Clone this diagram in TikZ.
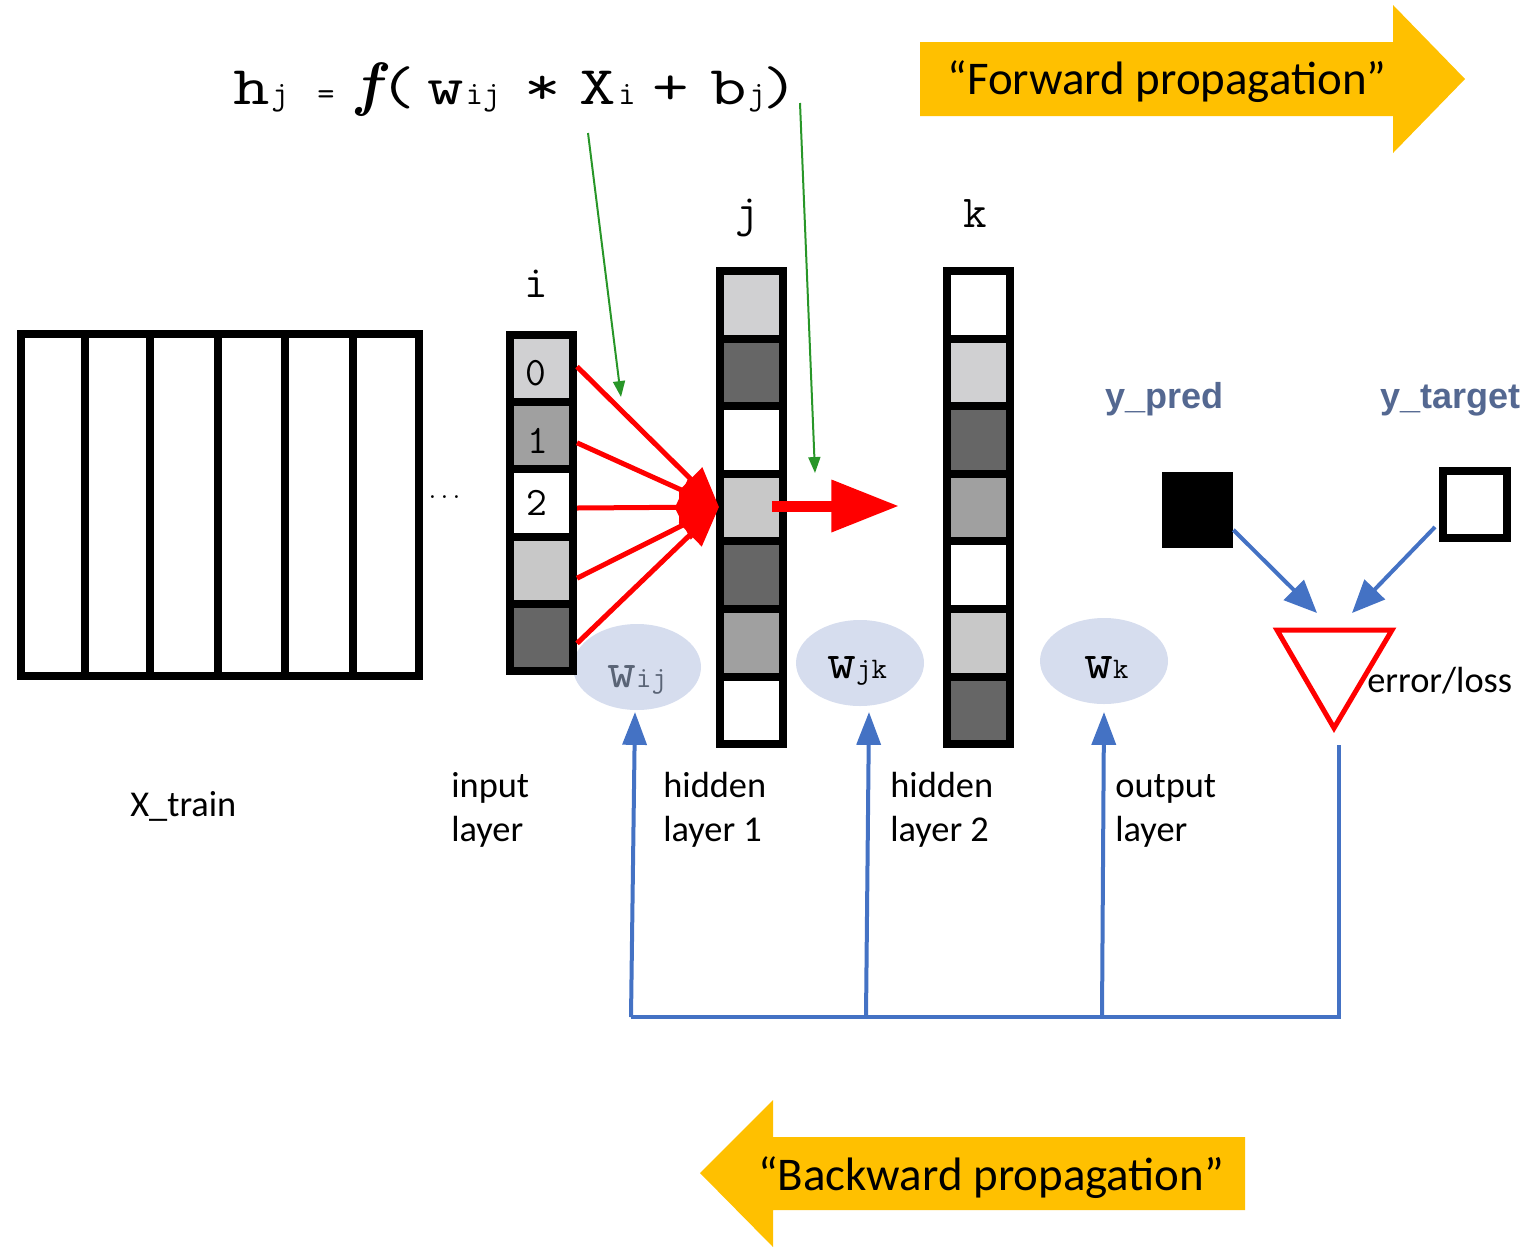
\documentclass[tikz,border=0pt]{standalone}
\usepackage{fontspec}
\newfontfamily\calib{Carlito}
\newfontfamily\helv{Liberation Sans}
\usetikzlibrary{arrows.meta,calc,shapes.geometric}
\newlength{\pxu}\setlength{\pxu}{0.02cm}
\definecolor{fwd}{RGB}{255,192,0}
\definecolor{bblue}{RGB}{68,114,196}
\definecolor{ell}{RGB}{214,221,238}
\definecolor{gline}{RGB}{40,150,40}
\definecolor{lg}{RGB}{208,208,210}
\definecolor{mg}{RGB}{160,160,160}
\definecolor{dg}{RGB}{102,102,102}
\definecolor{cg}{RGB}{200,200,200}
\definecolor{slate}{RGB}{84,104,145}
\definecolor{wgrey}{RGB}{90,100,118}
\newcommand{\wide}[1]{\scalebox{1.3}[1]{#1}}
\newcommand{\wbig}[1]{{\ttfamily\fontsize{29}{30}\selectfont\scalebox{1.1}[1]{#1}}}
\newcommand{\wsub}[1]{{\ttfamily\fontsize{17}{18}\selectfont #1}}
\begin{document}
\begin{tikzpicture}[x=0.02cm,y=-0.02cm,
  cell/.style={draw=black,line width=8\pxu,minimum width=63\pxu,minimum height=67.6\pxu,inner sep=0pt},
  big/.style={font=\ttfamily\fontsize{31}{34}\selectfont,inner sep=0pt,anchor=base},
  small/.style={font=\ttfamily\fontsize{19}{21}\selectfont,inner sep=0pt,anchor=base},
  lab/.style={font=\calib\fontsize{20.7}{25}\selectfont,inner sep=0pt,anchor=base west},
  ylab/.style={font=\helv\bfseries\fontsize{20.5}{24}\selectfont,text=slate,inner sep=0pt,anchor=base west},
  wlab/.style={inner sep=0pt,anchor=base west},
  wball/.style={ellipse,fill=ell,minimum width=128\pxu,minimum height=86\pxu,inner sep=0pt},
  idx/.style={font=\ttfamily\fontsize{26}{28}\selectfont,inner sep=0pt,anchor=base},
  digit/.style={font=\ttfamily\fontsize{23}{25}\selectfont,inner sep=0pt},
  proptext/.style={font=\calib\fontsize{26.7}{30}\selectfont,inner sep=0pt,anchor=base},
  garrow/.style={draw=gline,line width=2\pxu,-{Triangle[length=9.07pt,width=6.8pt]}},
  redarr/.style={draw=red,line width=5\pxu,-{Triangle[length=22.7pt,width=18.1pt]}},
  barrow/.style={draw=bblue,line width=4\pxu,-{Triangle[length=18.7pt,width=13.6pt]}},
  barrowd/.style={draw=bblue,line width=4\pxu,-{Triangle[length=18.7pt,width=15.9pt]}},
  bline/.style={draw=bblue,line width=4\pxu}
]
\useasboundingbox (0,0) rectangle (1534,1251);

% propagation arrows
\fill[fwd] (920,42) -- (1393,42) -- (1393,5) -- (1465,79) -- (1393,153) -- (1393,116) -- (920,116) -- cycle;
\node[proptext] (fwdtxt) at (1167,94) {“Forward propagation”};
\fill[fwd] (1245,1137) -- (773,1137) -- (773,1100) -- (700,1173) -- (773,1247) -- (773,1210) -- (1245,1210) -- cycle;
\node[proptext] (bwdtxt) at (991,1190) {“Backward propagation”};

% formula
\node[big] (fh) at (252,104) {\wide{h}};
\node[small] (fj1) at (280,104) {j};
\node[small] (feq) at (326,104) {=};
\node[font=\rmfamily\bfseries\itshape\fontsize{34}{36}\selectfont,inner sep=0pt,anchor=base] (ff) at (368,104) {f};
\node[big] (flp) at (398,104) {\wide{(}};
\node[big] (fw) at (446,104) {\wide{w}};
\node[small] (fij) at (483,104) {ij};
\node[big] (fstar) at (543,104) {\wide{*}};
\node[big] (fX) at (598,104) {\wide{X}};
\node[small] (fi) at (627,104) {i};
\node[big] (fplus) at (671,104) {\wide{+}};
\node[big] (fb) at (729,104) {\wide{b}};
\node[small] (fj2) at (757,104) {j};
\node[big] (frp) at (781,104) {\wide{)}};

% X_train block
\draw[line width=8\pxu] (21,334) rectangle (419,676);
\foreach \x in {85,150,218,285,353} \draw[line width=8\pxu] (\x,334) -- (\x,676);
\node[font=\rmfamily\fontsize{20}{22}\selectfont,inner sep=0pt,anchor=base] (dots) at (445,498) {.\kern1.9pt.\kern1.9pt.};

% weight ellipses
\node[wball] (wij) at (637,667) {};
\node[wball] (wjk) at (860,663) {};
\node[wball] (wk) at (1104,661) {};
\node[wlab,text=wgrey] (wijt) at (607,687) {\wbig{w}\wsub{ij}};
\node[wlab] (wjkt) at (827,678) {\wbig{w}\wsub{jk}};
\node[wlab] (wkt) at (1084,678) {\wbig{w}\wsub{k}};

% layer columns
\foreach \c [count=\n from 0] in {lg,mg,white,cg,dg}
  \node[cell,minimum height=67.2\pxu,fill=\c] (in\n) at (541.5,{368.6+67.2*\n}) {};
\foreach \c [count=\n from 0] in {lg,dg,white,cg,dg,mg,white}
  \node[cell,fill=\c] (ha\n) at (751.5,{304.8+67.6*\n}) {};
\foreach \c [count=\n from 0] in {white,lg,dg,mg,white,cg,dg}
  \node[cell,fill=\c] (hb\n) at (978.5,{304.8+67.6*\n}) {};
\node[digit] (d0) at (536,373) {0};
\node[digit] (d1) at (538,441) {1};
\node[digit] (d2) at (537,503) {2};

\node[idx] (li) at (536,297) {i};
\node[idx] (lj) at (747,226) {j};
\node[idx] (lk) at (975,227) {k};

% green arrows
\coordinate (g1s) at (588,133);
\coordinate (g1e) at (621,397);
\coordinate (g2s) at (800,103);
\coordinate (g2e) at (815,473);
\draw[garrow] (g1s) -- (g1e);
\draw[garrow] (g2s) -- (g2e);

% red arrows
\coordinate (conv) at (719,507);
\foreach \k/\s in {0/-2,1/7,2/5,3/8,4/6}
  \draw[redarr] ($(in\k.east)+(0,\s)$) -- (conv);
\coordinate (rs) at (772,506);
\coordinate (re) at (899,506);
\draw[draw=red,line width=11\pxu,-{Triangle[length=38.5pt,width=28.3pt]}] (rs) -- (re);

% prediction / target
\node[ylab] (ypl) at (1105,408) {y\_pred};
\node[ylab] (ytl) at (1380,408) {y\_target};
\node[fill=black,minimum width=71\pxu,minimum height=76\pxu,inner sep=0pt] (pred) at (1197.5,510) {};
\node[draw=black,line width=8\pxu,fill=white,minimum width=64\pxu,minimum height=67\pxu,inner sep=0pt] (tgt) at (1475,504.5) {};

% loss triangle
\coordinate (l1) at (1277,630);
\coordinate (l2) at (1392,630);
\coordinate (l3) at (1334,728);
\draw[red,line width=5\pxu,fill=white,line join=miter] (l1) -- (l2) -- (l3) -- cycle;
\node[lab] (errl) at (1367,692) {error/loss};
\coordinate (p1) at (1317,613);
\coordinate (p2) at (1352,613);
\draw[barrowd] (pred.-29) -- (p1);
\draw[barrowd] ($(tgt.212)+(-4,0)$) -- (p2);

% back propagation lines
\coordinate (b1) at (631,1017);
\coordinate (b2) at (866,1017);
\coordinate (b3) at (1102,1017);
\coordinate (b4) at (1339,1017);
\coordinate (e1) at (1339,745);
\coordinate (t1) at (635,712);
\coordinate (t2) at (869,712);
\coordinate (t3) at (1104,712);
\draw[bline] (b1) -- (b4) -- (e1);
\draw[barrow] (b1) -- (t1);
\draw[barrow] (b2) -- (t2);
\draw[barrow] (b3) -- (t3);

% layer labels
\node[lab] (xtr) at (130,816) {X\_train};
\node[lab] (in1l) at (451,797) {input};
\node[lab] (in2l) at (451,841) {layer};
\node[lab] (h11l) at (663,797) {hidden};
\node[lab] (h12l) at (663,841) {layer 1};
\node[lab] (h21l) at (890,797) {hidden};
\node[lab] (h22l) at (890,841) {layer 2};
\node[lab] (o1l) at (1115,797) {output};
\node[lab] (o2l) at (1115,841) {layer};
\end{tikzpicture}
\end{document}
